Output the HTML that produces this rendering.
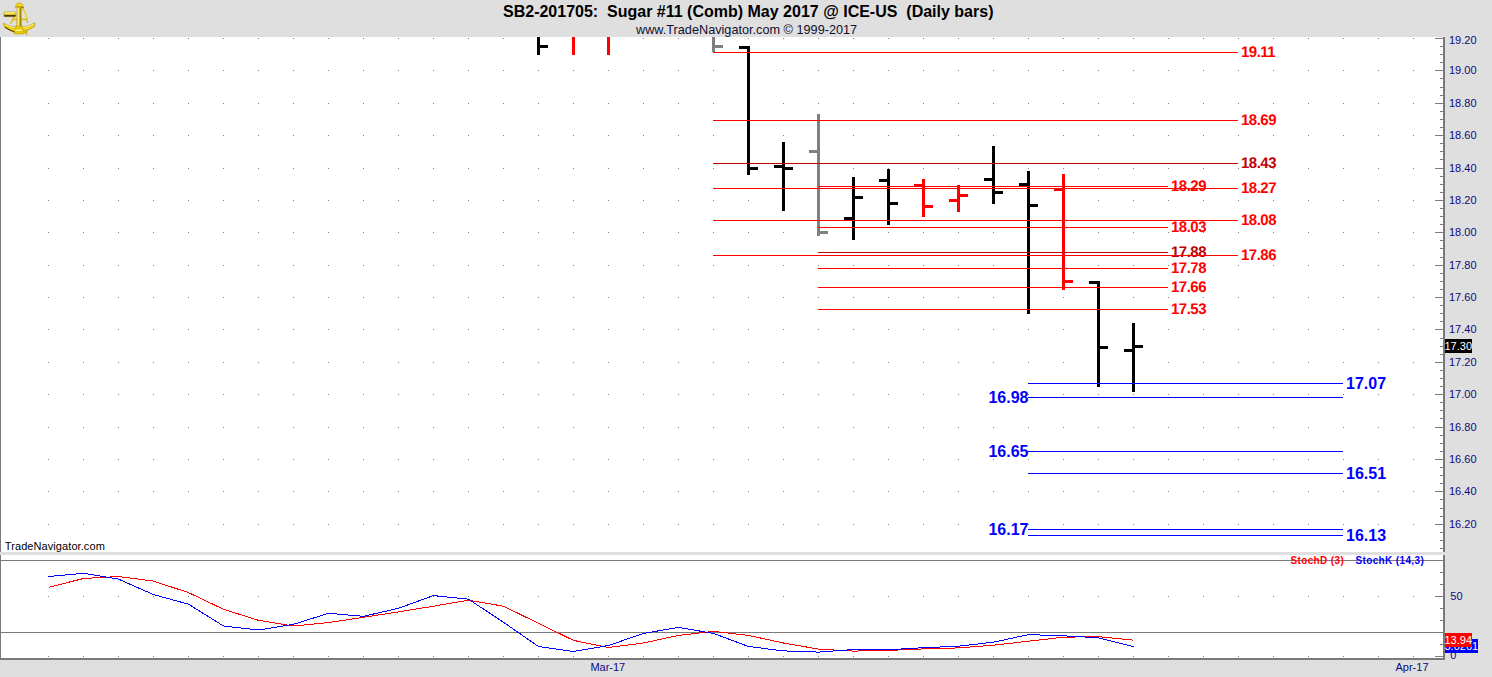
<!DOCTYPE html>
<html><head><meta charset="utf-8"><title>SB2-201705 Sugar #11 Daily</title>
<style>html,body{margin:0;padding:0;background:#dfdfdf;}body{width:1492px;height:677px;overflow:hidden;font-family:"Liberation Sans",sans-serif;}svg{display:block;}</style>
</head><body>
<svg width="1492" height="677" viewBox="0 0 1492 677" font-family="Liberation Sans, sans-serif"><rect x="0" y="0" width="1492" height="677" fill="#dfdfdf"/>
<rect x="1" y="37" width="1442" height="515" fill="#ffffff"/>
<rect x="1" y="555" width="1442" height="103" fill="#ffffff"/>
<rect x="0" y="37" width="1" height="515" fill="#7a7a7a"/>
<rect x="0" y="555" width="1" height="105" fill="#7a7a7a"/>
<rect x="1443" y="37" width="2" height="515" fill="#7a7a7a"/>
<rect x="1443" y="555" width="2" height="105" fill="#7a7a7a"/>
<rect x="0" y="658" width="1445" height="2" fill="#7a7a7a"/>
<path d="M48 38h1v1h-1zM83 38h1v1h-1zM118 38h1v1h-1zM153 38h1v1h-1zM188 38h1v1h-1zM223 38h1v1h-1zM258 38h1v1h-1zM293 38h1v1h-1zM328 38h1v1h-1zM363 38h1v1h-1zM398 38h1v1h-1zM433 38h1v1h-1zM468 38h1v1h-1zM503 38h1v1h-1zM538 38h1v1h-1zM573 38h1v1h-1zM608 38h1v1h-1zM643 38h1v1h-1zM678 38h1v1h-1zM713 38h1v1h-1zM748 38h1v1h-1zM783 38h1v1h-1zM818 38h1v1h-1zM853 38h1v1h-1zM888 38h1v1h-1zM923 38h1v1h-1zM958 38h1v1h-1zM993 38h1v1h-1zM1028 38h1v1h-1zM1063 38h1v1h-1zM1098 38h1v1h-1zM1133 38h1v1h-1zM1168 38h1v1h-1zM1203 38h1v1h-1zM1238 38h1v1h-1zM1273 38h1v1h-1zM1308 38h1v1h-1zM1343 38h1v1h-1zM1378 38h1v1h-1zM1413 38h1v1h-1zM48 70h1v1h-1zM83 70h1v1h-1zM118 70h1v1h-1zM153 70h1v1h-1zM188 70h1v1h-1zM223 70h1v1h-1zM258 70h1v1h-1zM293 70h1v1h-1zM328 70h1v1h-1zM363 70h1v1h-1zM398 70h1v1h-1zM433 70h1v1h-1zM468 70h1v1h-1zM503 70h1v1h-1zM538 70h1v1h-1zM573 70h1v1h-1zM608 70h1v1h-1zM643 70h1v1h-1zM678 70h1v1h-1zM713 70h1v1h-1zM748 70h1v1h-1zM783 70h1v1h-1zM818 70h1v1h-1zM853 70h1v1h-1zM888 70h1v1h-1zM923 70h1v1h-1zM958 70h1v1h-1zM993 70h1v1h-1zM1028 70h1v1h-1zM1063 70h1v1h-1zM1098 70h1v1h-1zM1133 70h1v1h-1zM1168 70h1v1h-1zM1203 70h1v1h-1zM1238 70h1v1h-1zM1273 70h1v1h-1zM1308 70h1v1h-1zM1343 70h1v1h-1zM1378 70h1v1h-1zM1413 70h1v1h-1zM48 103h1v1h-1zM83 103h1v1h-1zM118 103h1v1h-1zM153 103h1v1h-1zM188 103h1v1h-1zM223 103h1v1h-1zM258 103h1v1h-1zM293 103h1v1h-1zM328 103h1v1h-1zM363 103h1v1h-1zM398 103h1v1h-1zM433 103h1v1h-1zM468 103h1v1h-1zM503 103h1v1h-1zM538 103h1v1h-1zM573 103h1v1h-1zM608 103h1v1h-1zM643 103h1v1h-1zM678 103h1v1h-1zM713 103h1v1h-1zM748 103h1v1h-1zM783 103h1v1h-1zM818 103h1v1h-1zM853 103h1v1h-1zM888 103h1v1h-1zM923 103h1v1h-1zM958 103h1v1h-1zM993 103h1v1h-1zM1028 103h1v1h-1zM1063 103h1v1h-1zM1098 103h1v1h-1zM1133 103h1v1h-1zM1168 103h1v1h-1zM1203 103h1v1h-1zM1238 103h1v1h-1zM1273 103h1v1h-1zM1308 103h1v1h-1zM1343 103h1v1h-1zM1378 103h1v1h-1zM1413 103h1v1h-1zM48 135h1v1h-1zM83 135h1v1h-1zM118 135h1v1h-1zM153 135h1v1h-1zM188 135h1v1h-1zM223 135h1v1h-1zM258 135h1v1h-1zM293 135h1v1h-1zM328 135h1v1h-1zM363 135h1v1h-1zM398 135h1v1h-1zM433 135h1v1h-1zM468 135h1v1h-1zM503 135h1v1h-1zM538 135h1v1h-1zM573 135h1v1h-1zM608 135h1v1h-1zM643 135h1v1h-1zM678 135h1v1h-1zM713 135h1v1h-1zM748 135h1v1h-1zM783 135h1v1h-1zM818 135h1v1h-1zM853 135h1v1h-1zM888 135h1v1h-1zM923 135h1v1h-1zM958 135h1v1h-1zM993 135h1v1h-1zM1028 135h1v1h-1zM1063 135h1v1h-1zM1098 135h1v1h-1zM1133 135h1v1h-1zM1168 135h1v1h-1zM1203 135h1v1h-1zM1238 135h1v1h-1zM1273 135h1v1h-1zM1308 135h1v1h-1zM1343 135h1v1h-1zM1378 135h1v1h-1zM1413 135h1v1h-1zM48 168h1v1h-1zM83 168h1v1h-1zM118 168h1v1h-1zM153 168h1v1h-1zM188 168h1v1h-1zM223 168h1v1h-1zM258 168h1v1h-1zM293 168h1v1h-1zM328 168h1v1h-1zM363 168h1v1h-1zM398 168h1v1h-1zM433 168h1v1h-1zM468 168h1v1h-1zM503 168h1v1h-1zM538 168h1v1h-1zM573 168h1v1h-1zM608 168h1v1h-1zM643 168h1v1h-1zM678 168h1v1h-1zM713 168h1v1h-1zM748 168h1v1h-1zM783 168h1v1h-1zM818 168h1v1h-1zM853 168h1v1h-1zM888 168h1v1h-1zM923 168h1v1h-1zM958 168h1v1h-1zM993 168h1v1h-1zM1028 168h1v1h-1zM1063 168h1v1h-1zM1098 168h1v1h-1zM1133 168h1v1h-1zM1168 168h1v1h-1zM1203 168h1v1h-1zM1238 168h1v1h-1zM1273 168h1v1h-1zM1308 168h1v1h-1zM1343 168h1v1h-1zM1378 168h1v1h-1zM1413 168h1v1h-1zM48 200h1v1h-1zM83 200h1v1h-1zM118 200h1v1h-1zM153 200h1v1h-1zM188 200h1v1h-1zM223 200h1v1h-1zM258 200h1v1h-1zM293 200h1v1h-1zM328 200h1v1h-1zM363 200h1v1h-1zM398 200h1v1h-1zM433 200h1v1h-1zM468 200h1v1h-1zM503 200h1v1h-1zM538 200h1v1h-1zM573 200h1v1h-1zM608 200h1v1h-1zM643 200h1v1h-1zM678 200h1v1h-1zM713 200h1v1h-1zM748 200h1v1h-1zM783 200h1v1h-1zM818 200h1v1h-1zM853 200h1v1h-1zM888 200h1v1h-1zM923 200h1v1h-1zM958 200h1v1h-1zM993 200h1v1h-1zM1028 200h1v1h-1zM1063 200h1v1h-1zM1098 200h1v1h-1zM1133 200h1v1h-1zM1168 200h1v1h-1zM1203 200h1v1h-1zM1238 200h1v1h-1zM1273 200h1v1h-1zM1308 200h1v1h-1zM1343 200h1v1h-1zM1378 200h1v1h-1zM1413 200h1v1h-1zM48 232h1v1h-1zM83 232h1v1h-1zM118 232h1v1h-1zM153 232h1v1h-1zM188 232h1v1h-1zM223 232h1v1h-1zM258 232h1v1h-1zM293 232h1v1h-1zM328 232h1v1h-1zM363 232h1v1h-1zM398 232h1v1h-1zM433 232h1v1h-1zM468 232h1v1h-1zM503 232h1v1h-1zM538 232h1v1h-1zM573 232h1v1h-1zM608 232h1v1h-1zM643 232h1v1h-1zM678 232h1v1h-1zM713 232h1v1h-1zM748 232h1v1h-1zM783 232h1v1h-1zM818 232h1v1h-1zM853 232h1v1h-1zM888 232h1v1h-1zM923 232h1v1h-1zM958 232h1v1h-1zM993 232h1v1h-1zM1028 232h1v1h-1zM1063 232h1v1h-1zM1098 232h1v1h-1zM1133 232h1v1h-1zM1168 232h1v1h-1zM1203 232h1v1h-1zM1238 232h1v1h-1zM1273 232h1v1h-1zM1308 232h1v1h-1zM1343 232h1v1h-1zM1378 232h1v1h-1zM1413 232h1v1h-1zM48 265h1v1h-1zM83 265h1v1h-1zM118 265h1v1h-1zM153 265h1v1h-1zM188 265h1v1h-1zM223 265h1v1h-1zM258 265h1v1h-1zM293 265h1v1h-1zM328 265h1v1h-1zM363 265h1v1h-1zM398 265h1v1h-1zM433 265h1v1h-1zM468 265h1v1h-1zM503 265h1v1h-1zM538 265h1v1h-1zM573 265h1v1h-1zM608 265h1v1h-1zM643 265h1v1h-1zM678 265h1v1h-1zM713 265h1v1h-1zM748 265h1v1h-1zM783 265h1v1h-1zM818 265h1v1h-1zM853 265h1v1h-1zM888 265h1v1h-1zM923 265h1v1h-1zM958 265h1v1h-1zM993 265h1v1h-1zM1028 265h1v1h-1zM1063 265h1v1h-1zM1098 265h1v1h-1zM1133 265h1v1h-1zM1168 265h1v1h-1zM1203 265h1v1h-1zM1238 265h1v1h-1zM1273 265h1v1h-1zM1308 265h1v1h-1zM1343 265h1v1h-1zM1378 265h1v1h-1zM1413 265h1v1h-1zM48 297h1v1h-1zM83 297h1v1h-1zM118 297h1v1h-1zM153 297h1v1h-1zM188 297h1v1h-1zM223 297h1v1h-1zM258 297h1v1h-1zM293 297h1v1h-1zM328 297h1v1h-1zM363 297h1v1h-1zM398 297h1v1h-1zM433 297h1v1h-1zM468 297h1v1h-1zM503 297h1v1h-1zM538 297h1v1h-1zM573 297h1v1h-1zM608 297h1v1h-1zM643 297h1v1h-1zM678 297h1v1h-1zM713 297h1v1h-1zM748 297h1v1h-1zM783 297h1v1h-1zM818 297h1v1h-1zM853 297h1v1h-1zM888 297h1v1h-1zM923 297h1v1h-1zM958 297h1v1h-1zM993 297h1v1h-1zM1028 297h1v1h-1zM1063 297h1v1h-1zM1098 297h1v1h-1zM1133 297h1v1h-1zM1168 297h1v1h-1zM1203 297h1v1h-1zM1238 297h1v1h-1zM1273 297h1v1h-1zM1308 297h1v1h-1zM1343 297h1v1h-1zM1378 297h1v1h-1zM1413 297h1v1h-1zM48 329h1v1h-1zM83 329h1v1h-1zM118 329h1v1h-1zM153 329h1v1h-1zM188 329h1v1h-1zM223 329h1v1h-1zM258 329h1v1h-1zM293 329h1v1h-1zM328 329h1v1h-1zM363 329h1v1h-1zM398 329h1v1h-1zM433 329h1v1h-1zM468 329h1v1h-1zM503 329h1v1h-1zM538 329h1v1h-1zM573 329h1v1h-1zM608 329h1v1h-1zM643 329h1v1h-1zM678 329h1v1h-1zM713 329h1v1h-1zM748 329h1v1h-1zM783 329h1v1h-1zM818 329h1v1h-1zM853 329h1v1h-1zM888 329h1v1h-1zM923 329h1v1h-1zM958 329h1v1h-1zM993 329h1v1h-1zM1028 329h1v1h-1zM1063 329h1v1h-1zM1098 329h1v1h-1zM1133 329h1v1h-1zM1168 329h1v1h-1zM1203 329h1v1h-1zM1238 329h1v1h-1zM1273 329h1v1h-1zM1308 329h1v1h-1zM1343 329h1v1h-1zM1378 329h1v1h-1zM1413 329h1v1h-1zM48 362h1v1h-1zM83 362h1v1h-1zM118 362h1v1h-1zM153 362h1v1h-1zM188 362h1v1h-1zM223 362h1v1h-1zM258 362h1v1h-1zM293 362h1v1h-1zM328 362h1v1h-1zM363 362h1v1h-1zM398 362h1v1h-1zM433 362h1v1h-1zM468 362h1v1h-1zM503 362h1v1h-1zM538 362h1v1h-1zM573 362h1v1h-1zM608 362h1v1h-1zM643 362h1v1h-1zM678 362h1v1h-1zM713 362h1v1h-1zM748 362h1v1h-1zM783 362h1v1h-1zM818 362h1v1h-1zM853 362h1v1h-1zM888 362h1v1h-1zM923 362h1v1h-1zM958 362h1v1h-1zM993 362h1v1h-1zM1028 362h1v1h-1zM1063 362h1v1h-1zM1098 362h1v1h-1zM1133 362h1v1h-1zM1168 362h1v1h-1zM1203 362h1v1h-1zM1238 362h1v1h-1zM1273 362h1v1h-1zM1308 362h1v1h-1zM1343 362h1v1h-1zM1378 362h1v1h-1zM1413 362h1v1h-1zM48 394h1v1h-1zM83 394h1v1h-1zM118 394h1v1h-1zM153 394h1v1h-1zM188 394h1v1h-1zM223 394h1v1h-1zM258 394h1v1h-1zM293 394h1v1h-1zM328 394h1v1h-1zM363 394h1v1h-1zM398 394h1v1h-1zM433 394h1v1h-1zM468 394h1v1h-1zM503 394h1v1h-1zM538 394h1v1h-1zM573 394h1v1h-1zM608 394h1v1h-1zM643 394h1v1h-1zM678 394h1v1h-1zM713 394h1v1h-1zM748 394h1v1h-1zM783 394h1v1h-1zM818 394h1v1h-1zM853 394h1v1h-1zM888 394h1v1h-1zM923 394h1v1h-1zM958 394h1v1h-1zM993 394h1v1h-1zM1028 394h1v1h-1zM1063 394h1v1h-1zM1098 394h1v1h-1zM1133 394h1v1h-1zM1168 394h1v1h-1zM1203 394h1v1h-1zM1238 394h1v1h-1zM1273 394h1v1h-1zM1308 394h1v1h-1zM1343 394h1v1h-1zM1378 394h1v1h-1zM1413 394h1v1h-1zM48 427h1v1h-1zM83 427h1v1h-1zM118 427h1v1h-1zM153 427h1v1h-1zM188 427h1v1h-1zM223 427h1v1h-1zM258 427h1v1h-1zM293 427h1v1h-1zM328 427h1v1h-1zM363 427h1v1h-1zM398 427h1v1h-1zM433 427h1v1h-1zM468 427h1v1h-1zM503 427h1v1h-1zM538 427h1v1h-1zM573 427h1v1h-1zM608 427h1v1h-1zM643 427h1v1h-1zM678 427h1v1h-1zM713 427h1v1h-1zM748 427h1v1h-1zM783 427h1v1h-1zM818 427h1v1h-1zM853 427h1v1h-1zM888 427h1v1h-1zM923 427h1v1h-1zM958 427h1v1h-1zM993 427h1v1h-1zM1028 427h1v1h-1zM1063 427h1v1h-1zM1098 427h1v1h-1zM1133 427h1v1h-1zM1168 427h1v1h-1zM1203 427h1v1h-1zM1238 427h1v1h-1zM1273 427h1v1h-1zM1308 427h1v1h-1zM1343 427h1v1h-1zM1378 427h1v1h-1zM1413 427h1v1h-1zM48 459h1v1h-1zM83 459h1v1h-1zM118 459h1v1h-1zM153 459h1v1h-1zM188 459h1v1h-1zM223 459h1v1h-1zM258 459h1v1h-1zM293 459h1v1h-1zM328 459h1v1h-1zM363 459h1v1h-1zM398 459h1v1h-1zM433 459h1v1h-1zM468 459h1v1h-1zM503 459h1v1h-1zM538 459h1v1h-1zM573 459h1v1h-1zM608 459h1v1h-1zM643 459h1v1h-1zM678 459h1v1h-1zM713 459h1v1h-1zM748 459h1v1h-1zM783 459h1v1h-1zM818 459h1v1h-1zM853 459h1v1h-1zM888 459h1v1h-1zM923 459h1v1h-1zM958 459h1v1h-1zM993 459h1v1h-1zM1028 459h1v1h-1zM1063 459h1v1h-1zM1098 459h1v1h-1zM1133 459h1v1h-1zM1168 459h1v1h-1zM1203 459h1v1h-1zM1238 459h1v1h-1zM1273 459h1v1h-1zM1308 459h1v1h-1zM1343 459h1v1h-1zM1378 459h1v1h-1zM1413 459h1v1h-1zM48 491h1v1h-1zM83 491h1v1h-1zM118 491h1v1h-1zM153 491h1v1h-1zM188 491h1v1h-1zM223 491h1v1h-1zM258 491h1v1h-1zM293 491h1v1h-1zM328 491h1v1h-1zM363 491h1v1h-1zM398 491h1v1h-1zM433 491h1v1h-1zM468 491h1v1h-1zM503 491h1v1h-1zM538 491h1v1h-1zM573 491h1v1h-1zM608 491h1v1h-1zM643 491h1v1h-1zM678 491h1v1h-1zM713 491h1v1h-1zM748 491h1v1h-1zM783 491h1v1h-1zM818 491h1v1h-1zM853 491h1v1h-1zM888 491h1v1h-1zM923 491h1v1h-1zM958 491h1v1h-1zM993 491h1v1h-1zM1028 491h1v1h-1zM1063 491h1v1h-1zM1098 491h1v1h-1zM1133 491h1v1h-1zM1168 491h1v1h-1zM1203 491h1v1h-1zM1238 491h1v1h-1zM1273 491h1v1h-1zM1308 491h1v1h-1zM1343 491h1v1h-1zM1378 491h1v1h-1zM1413 491h1v1h-1zM48 524h1v1h-1zM83 524h1v1h-1zM118 524h1v1h-1zM153 524h1v1h-1zM188 524h1v1h-1zM223 524h1v1h-1zM258 524h1v1h-1zM293 524h1v1h-1zM328 524h1v1h-1zM363 524h1v1h-1zM398 524h1v1h-1zM433 524h1v1h-1zM468 524h1v1h-1zM503 524h1v1h-1zM538 524h1v1h-1zM573 524h1v1h-1zM608 524h1v1h-1zM643 524h1v1h-1zM678 524h1v1h-1zM713 524h1v1h-1zM748 524h1v1h-1zM783 524h1v1h-1zM818 524h1v1h-1zM853 524h1v1h-1zM888 524h1v1h-1zM923 524h1v1h-1zM958 524h1v1h-1zM993 524h1v1h-1zM1028 524h1v1h-1zM1063 524h1v1h-1zM1098 524h1v1h-1zM1133 524h1v1h-1zM1168 524h1v1h-1zM1203 524h1v1h-1zM1238 524h1v1h-1zM1273 524h1v1h-1zM1308 524h1v1h-1zM1343 524h1v1h-1zM1378 524h1v1h-1zM1413 524h1v1h-1zM48 596h1v1h-1zM83 596h1v1h-1zM118 596h1v1h-1zM153 596h1v1h-1zM188 596h1v1h-1zM223 596h1v1h-1zM258 596h1v1h-1zM293 596h1v1h-1zM328 596h1v1h-1zM363 596h1v1h-1zM398 596h1v1h-1zM433 596h1v1h-1zM468 596h1v1h-1zM503 596h1v1h-1zM538 596h1v1h-1zM573 596h1v1h-1zM608 596h1v1h-1zM643 596h1v1h-1zM678 596h1v1h-1zM713 596h1v1h-1zM748 596h1v1h-1zM783 596h1v1h-1zM818 596h1v1h-1zM853 596h1v1h-1zM888 596h1v1h-1zM923 596h1v1h-1zM958 596h1v1h-1zM993 596h1v1h-1zM1028 596h1v1h-1zM1063 596h1v1h-1zM1098 596h1v1h-1zM1133 596h1v1h-1zM1168 596h1v1h-1zM1203 596h1v1h-1zM1238 596h1v1h-1zM1273 596h1v1h-1zM1308 596h1v1h-1zM1343 596h1v1h-1zM1378 596h1v1h-1zM1413 596h1v1h-1zM48 656h1v1h-1zM83 656h1v1h-1zM118 656h1v1h-1zM153 656h1v1h-1zM188 656h1v1h-1zM223 656h1v1h-1zM258 656h1v1h-1zM293 656h1v1h-1zM328 656h1v1h-1zM363 656h1v1h-1zM398 656h1v1h-1zM433 656h1v1h-1zM468 656h1v1h-1zM503 656h1v1h-1zM538 656h1v1h-1zM573 656h1v1h-1zM608 656h1v1h-1zM643 656h1v1h-1zM678 656h1v1h-1zM713 656h1v1h-1zM748 656h1v1h-1zM783 656h1v1h-1zM818 656h1v1h-1zM853 656h1v1h-1zM888 656h1v1h-1zM923 656h1v1h-1zM958 656h1v1h-1zM993 656h1v1h-1zM1028 656h1v1h-1zM1063 656h1v1h-1zM1098 656h1v1h-1zM1133 656h1v1h-1zM1168 656h1v1h-1zM1203 656h1v1h-1zM1238 656h1v1h-1zM1273 656h1v1h-1zM1308 656h1v1h-1zM1343 656h1v1h-1zM1378 656h1v1h-1zM1413 656h1v1h-1z" fill="#808080"/>
<path d="M1435 38h8v1h-8zM1440 46h3v1h-3zM1440 54h3v1h-3zM1440 62h3v1h-3zM1435 70h8v1h-8zM1440 78h3v1h-3zM1440 87h3v1h-3zM1440 95h3v1h-3zM1435 103h8v1h-8zM1440 111h3v1h-3zM1440 119h3v1h-3zM1440 127h3v1h-3zM1435 135h8v1h-8zM1440 143h3v1h-3zM1440 151h3v1h-3zM1440 159h3v1h-3zM1435 168h8v1h-8zM1440 176h3v1h-3zM1440 184h3v1h-3zM1440 192h3v1h-3zM1435 200h8v1h-8zM1440 208h3v1h-3zM1440 216h3v1h-3zM1440 224h3v1h-3zM1435 232h8v1h-8zM1440 240h3v1h-3zM1440 248h3v1h-3zM1440 257h3v1h-3zM1435 265h8v1h-8zM1440 273h3v1h-3zM1440 281h3v1h-3zM1440 289h3v1h-3zM1435 297h8v1h-8zM1440 305h3v1h-3zM1440 313h3v1h-3zM1440 321h3v1h-3zM1435 329h8v1h-8zM1440 338h3v1h-3zM1440 346h3v1h-3zM1440 354h3v1h-3zM1435 362h8v1h-8zM1440 370h3v1h-3zM1440 378h3v1h-3zM1440 386h3v1h-3zM1435 394h8v1h-8zM1440 402h3v1h-3zM1440 410h3v1h-3zM1440 418h3v1h-3zM1435 427h8v1h-8zM1440 435h3v1h-3zM1440 443h3v1h-3zM1440 451h3v1h-3zM1435 459h8v1h-8zM1440 467h3v1h-3zM1440 475h3v1h-3zM1440 483h3v1h-3zM1435 491h8v1h-8zM1440 499h3v1h-3zM1440 508h3v1h-3zM1440 516h3v1h-3zM1435 524h8v1h-8zM1440 532h3v1h-3zM1440 540h3v1h-3zM1440 548h3v1h-3zM1435 656h8v1h-8zM1440 644h3v1h-3zM1440 632h3v1h-3zM1440 620h3v1h-3zM1440 608h3v1h-3zM1435 596h8v1h-8zM1440 584h3v1h-3zM1440 572h3v1h-3zM1440 560h3v1h-3z" fill="#7a7a7a"/>
<text x="1449" y="44" font-size="11" fill="#0a0a80" font-weight="normal" text-anchor="start" >19.20</text>
<text x="1449" y="74" font-size="11" fill="#0a0a80" font-weight="normal" text-anchor="start" >19.00</text>
<text x="1449" y="107" font-size="11" fill="#0a0a80" font-weight="normal" text-anchor="start" >18.80</text>
<text x="1449" y="139" font-size="11" fill="#0a0a80" font-weight="normal" text-anchor="start" >18.60</text>
<text x="1449" y="172" font-size="11" fill="#0a0a80" font-weight="normal" text-anchor="start" >18.40</text>
<text x="1449" y="204" font-size="11" fill="#0a0a80" font-weight="normal" text-anchor="start" >18.20</text>
<text x="1449" y="236" font-size="11" fill="#0a0a80" font-weight="normal" text-anchor="start" >18.00</text>
<text x="1449" y="269" font-size="11" fill="#0a0a80" font-weight="normal" text-anchor="start" >17.80</text>
<text x="1449" y="301" font-size="11" fill="#0a0a80" font-weight="normal" text-anchor="start" >17.60</text>
<text x="1449" y="333" font-size="11" fill="#0a0a80" font-weight="normal" text-anchor="start" >17.40</text>
<text x="1449" y="366" font-size="11" fill="#0a0a80" font-weight="normal" text-anchor="start" >17.20</text>
<text x="1449" y="398" font-size="11" fill="#0a0a80" font-weight="normal" text-anchor="start" >17.00</text>
<text x="1449" y="431" font-size="11" fill="#0a0a80" font-weight="normal" text-anchor="start" >16.80</text>
<text x="1449" y="463" font-size="11" fill="#0a0a80" font-weight="normal" text-anchor="start" >16.60</text>
<text x="1449" y="495" font-size="11" fill="#0a0a80" font-weight="normal" text-anchor="start" >16.40</text>
<text x="1449" y="528" font-size="11" fill="#0a0a80" font-weight="normal" text-anchor="start" >16.20</text>
<text x="1450.3" y="600" font-size="11" fill="#0a0a80" font-weight="normal" text-anchor="start" >50</text>
<text x="1450.3" y="659.3" font-size="11" fill="#0a0a80" font-weight="normal" text-anchor="start" >0</text>
<rect x="1" y="560" width="1442" height="1" fill="#7a7a7a"/>
<rect x="1" y="632" width="1442" height="1" fill="#7a7a7a"/>
<text x="607.8" y="671" font-size="11" fill="#0a0a80" font-weight="normal" text-anchor="middle" >Mar-17</text>
<text x="1412" y="671" font-size="11" fill="#0a0a80" font-weight="normal" text-anchor="middle" >Apr-17</text>
<text x="4.8" y="550" font-size="11" fill="#000" font-weight="normal" text-anchor="start" letter-spacing="0.08">TradeNavigator.com</text>
<path d="M537 37h3v18h-3zM540 45h8v3h-8z" fill="#000"/>
<path d="M572 37h3v18h-3z" fill="#ff0000"/>
<path d="M607 37h3v18h-3z" fill="#ff0000"/>
<path d="M712 37h3v15h-3zM715 45h8v3h-8z" fill="#808080"/>
<path d="M747 46h3v129h-3zM739 46h8v3h-8zM750 167h8v3h-8z" fill="#000"/>
<path d="M782 142h3v69h-3zM774 165h8v3h-8zM785 167h8v3h-8z" fill="#000"/>
<path d="M817 114h3v122h-3zM809 150h8v3h-8zM820 231h8v3h-8z" fill="#808080"/>
<path d="M852 177h3v63h-3zM844 217h8v3h-8zM855 196h8v3h-8z" fill="#000"/>
<path d="M887 169h3v56h-3zM879 179h8v3h-8zM890 202h8v3h-8z" fill="#000"/>
<path d="M922 179h3v38h-3zM914 184h8v3h-8zM925 205h8v3h-8z" fill="#ff0000"/>
<path d="M957 185h3v27h-3zM949 199h8v3h-8zM960 194h8v3h-8z" fill="#ff0000"/>
<path d="M992 146h3v58h-3zM984 178h8v3h-8zM995 191h8v3h-8z" fill="#000"/>
<path d="M1027 171h3v143h-3zM1019 183h8v3h-8zM1030 204h8v3h-8z" fill="#000"/>
<path d="M1062 174h3v116h-3zM1054 188h8v3h-8zM1065 280h8v3h-8z" fill="#ff0000"/>
<path d="M1097 281h3v106h-3zM1089 281h8v3h-8zM1100 346h8v3h-8z" fill="#000"/>
<path d="M1132 323h3v69h-3zM1124 349h8v3h-8zM1135 345h8v3h-8z" fill="#000"/>
<text x="0" y="0" font-size="15" fill="#ff0000" font-weight="bold" text-anchor="start" letter-spacing="-0.5" text-rendering="geometricPrecision" transform="translate(1241 57) scale(1 1.03)">19.11</text>
<text x="0" y="0" font-size="15" fill="#ff0000" font-weight="bold" text-anchor="start" letter-spacing="-0.5" text-rendering="geometricPrecision" transform="translate(1241 125) scale(1 1.03)">18.69</text>
<text x="0" y="0" font-size="15" fill="#c00000" font-weight="bold" text-anchor="start" letter-spacing="-0.5" text-rendering="geometricPrecision" transform="translate(1241 168) scale(1 1.03)">18.43</text>
<text x="0" y="0" font-size="15" fill="#ff0000" font-weight="bold" text-anchor="start" letter-spacing="-0.5" text-rendering="geometricPrecision" transform="translate(1241 193) scale(1 1.03)">18.27</text>
<text x="0" y="0" font-size="15" fill="#ff0000" font-weight="bold" text-anchor="start" letter-spacing="-0.5" text-rendering="geometricPrecision" transform="translate(1241 225) scale(1 1.03)">18.08</text>
<text x="0" y="0" font-size="15" fill="#ff0000" font-weight="bold" text-anchor="start" letter-spacing="-0.5" text-rendering="geometricPrecision" transform="translate(1241 260) scale(1 1.03)">17.86</text>
<text x="0" y="0" font-size="15" fill="#ff0000" font-weight="bold" text-anchor="start" letter-spacing="-0.5" text-rendering="geometricPrecision" transform="translate(1171 191) scale(1 1.03)">18.29</text>
<text x="0" y="0" font-size="15" fill="#ff0000" font-weight="bold" text-anchor="start" letter-spacing="-0.5" text-rendering="geometricPrecision" transform="translate(1171 232) scale(1 1.03)">18.03</text>
<text x="0" y="0" font-size="15" fill="#c00000" font-weight="bold" text-anchor="start" letter-spacing="-0.5" text-rendering="geometricPrecision" transform="translate(1171 257) scale(1 1.03)">17.88</text>
<text x="0" y="0" font-size="15" fill="#ff0000" font-weight="bold" text-anchor="start" letter-spacing="-0.5" text-rendering="geometricPrecision" transform="translate(1171 273) scale(1 1.03)">17.78</text>
<text x="0" y="0" font-size="15" fill="#ff0000" font-weight="bold" text-anchor="start" letter-spacing="-0.5" text-rendering="geometricPrecision" transform="translate(1171 292) scale(1 1.03)">17.66</text>
<text x="0" y="0" font-size="15" fill="#ff0000" font-weight="bold" text-anchor="start" letter-spacing="-0.5" text-rendering="geometricPrecision" transform="translate(1171 314) scale(1 1.03)">17.53</text>
<text x="1346" y="389" font-size="16" fill="#0000ff" font-weight="bold" text-anchor="start" >17.07</text>
<text x="1028.5" y="403" font-size="16" fill="#0000ff" font-weight="bold" text-anchor="end" >16.98</text>
<text x="1028.5" y="457" font-size="16" fill="#0000ff" font-weight="bold" text-anchor="end" >16.65</text>
<text x="1346" y="479" font-size="16" fill="#0000ff" font-weight="bold" text-anchor="start" >16.51</text>
<text x="1028.5" y="535" font-size="16" fill="#0000ff" font-weight="bold" text-anchor="end" >16.17</text>
<text x="1346" y="541" font-size="16" fill="#0000ff" font-weight="bold" text-anchor="start" >16.13</text>
<rect x="713" y="52" width="525" height="1" fill="#ff0000"/>
<rect x="713" y="120" width="525" height="1" fill="#ff0000"/>
<rect x="713" y="163" width="525" height="1" fill="#c00000"/>
<rect x="713" y="188" width="525" height="1" fill="#ff0000"/>
<rect x="713" y="220" width="525" height="1" fill="#ff0000"/>
<rect x="713" y="255" width="525" height="1" fill="#ff0000"/>
<rect x="818" y="186" width="350" height="1" fill="#ff0000"/>
<rect x="818" y="227" width="350" height="1" fill="#ff0000"/>
<rect x="818" y="252" width="350" height="1" fill="#c00000"/>
<rect x="818" y="268" width="350" height="1" fill="#ff0000"/>
<rect x="818" y="287" width="350" height="1" fill="#ff0000"/>
<rect x="818" y="309" width="350" height="1" fill="#ff0000"/>
<rect x="1028" y="383" width="315" height="1" fill="#0000ff"/>
<rect x="1028" y="397" width="315" height="1" fill="#0000ff"/>
<rect x="1028" y="451" width="315" height="1" fill="#0000ff"/>
<rect x="1028" y="473" width="315" height="1" fill="#0000ff"/>
<rect x="1028" y="529" width="315" height="1" fill="#0000ff"/>
<rect x="1028" y="535" width="315" height="1" fill="#0000ff"/>
<polyline points="48.5,587.3 83.5,578.5 118.5,576.5 153.5,581.1 188.5,592.6 223.5,609.3 258.5,620.3 293.5,626 328.5,622.6 363.5,617.3 398.5,611.9 433.5,606.2 468.5,600.2 503.5,606.2 538.5,623.3 573.5,640.4 608.5,647.5 643.5,643 678.5,635.4 713.5,631.4 748.5,635.4 783.5,643 818.5,649.1 853.5,651.1 888.5,650.4 923.5,648.9 958.5,647.9 993.5,645.2 1028.5,641.2 1063.5,637.2 1098.5,636.6 1133.5,640.2" fill="none" stroke="#ff0000" stroke-width="1" shape-rendering="crispEdges"/>
<polyline points="48.5,576.5 83.5,573.3 118.5,579.1 153.5,594.6 188.5,604.2 223.5,626 258.5,630 293.5,624.3 328.5,613.3 363.5,616.3 398.5,608.3 433.5,595.6 468.5,599.2 503.5,622.3 538.5,646.5 573.5,651.5 608.5,645.5 643.5,633.4 678.5,627.4 713.5,633.4 748.5,646.5 783.5,650.9 818.5,652.1 853.5,649.5 888.5,649.7 923.5,647.7 958.5,646.2 993.5,642.2 1028.5,634.6 1063.5,635.8 1098.5,637.8 1133.5,646.7" fill="none" stroke="#0000ff" stroke-width="1" shape-rendering="crispEdges"/>
<text x="1290.5" y="564" font-size="10" fill="#ff0000" font-weight="bold" text-anchor="start" letter-spacing="0.36">StochD (3)</text>
<text x="1355.5" y="564" font-size="10" fill="#0000ff" font-weight="bold" text-anchor="start" letter-spacing="0.36">StochK (14,3)</text>
<rect x="1445" y="339" width="27" height="14" fill="#000"/>
<text x="1444.5" y="350" font-size="11" fill="#fff" font-weight="normal" text-anchor="start" >17.30</text>
<rect x="1445" y="639" width="33" height="14" fill="#0000ff"/>
<text x="1444.5" y="650" font-size="11" fill="#fff" font-weight="normal" text-anchor="start" >3.0261</text>
<rect x="1445" y="633" width="27" height="14" fill="#ff0000"/>
<text x="1444.5" y="644" font-size="11" fill="#fff" font-weight="normal" text-anchor="start" >13.94</text>
<text x="503" y="17" font-size="16" fill="#000" font-weight="bold" text-anchor="start" xml:space="preserve">SB2-201705:&#160; Sugar #11 (Comb) May 2017 @ ICE-US&#160; (Daily bars)</text>
<text x="636" y="33.5" font-size="12.7" fill="#101030" font-weight="normal" text-anchor="start" >www.TradeNavigator.com © 1999-2017</text>
<g id="logo" stroke-linejoin="round">
<path d="M3.3 23.2 Q19 31.8 35 22.9 L34.3 26.8 Q19 37 4.3 27 Z" fill="#efd21a" stroke="#9c7f00" stroke-width="0.5"/>
<path d="M5 27.2 Q12 31.6 17 32.6" fill="none" stroke="#5a4500" stroke-width="1.1"/>
<path d="M5.5 24.6 Q19 32.2 33.8 24.2" fill="none" stroke="#fff59a" stroke-width="0.8"/>
<path d="M10.6 23.6 L15.8 14.2 M22 8.5 Q26.5 13 27.6 23 M12.2 19.4 L27.2 19.4" stroke="#e2c000" stroke-width="1.5" fill="none"/>
<path d="M22.6 9.5 Q26 13 26.8 18" stroke="#fff07a" stroke-width="0.6" fill="none"/>
<path d="M17.1 6.5 L21.1 6.5 L21.6 26.5 L16.7 26.5 Z" fill="#e6c400" stroke="#9c7f00" stroke-width="0.4"/>
<rect x="19.9" y="7.5" width="1.2" height="18.5" fill="#a08400"/>
<rect x="17.6" y="7" width="1.3" height="19" fill="#fff27c"/>
<path d="M15.6 7 Q15.8 2.8 19.2 2.8 Q22.6 2.8 23 7 Z" fill="#f4d828" stroke="#9c7f00" stroke-width="0.4"/>
<path d="M21.5 6.2 L23.8 7.6 L23.2 8.6 L21.3 7.6 Z" fill="#3a2c00"/>
<rect x="15" y="6" width="8.3" height="1.5" fill="#c9a800"/>
<rect x="4" y="11.9" width="11.8" height="4.7" rx="1.2" fill="#efd21a" stroke="#8a6e00" stroke-width="0.4"/>
<rect x="4.2" y="14.9" width="11.4" height="1.7" fill="#4a3800"/>
<rect x="4.6" y="12.4" width="10.6" height="1.1" fill="#fff59a"/>
<path d="M15.8 26 L22.2 26 Q23.6 30 23.4 34 L14.2 34 Q14.2 30 15.8 26 Z" fill="#e8c800" stroke="#9c7f00" stroke-width="0.4"/>
<rect x="15.2" y="29.6" width="7" height="1.3" fill="#fff4a8"/>
<rect x="23" y="31.6" width="2.8" height="1.4" fill="#d4b400"/>
<rect x="25.4" y="30.6" width="1.6" height="3.8" fill="#e8c800" stroke="#9c7f00" stroke-width="0.3"/>
</g>
</svg>
</body></html>
